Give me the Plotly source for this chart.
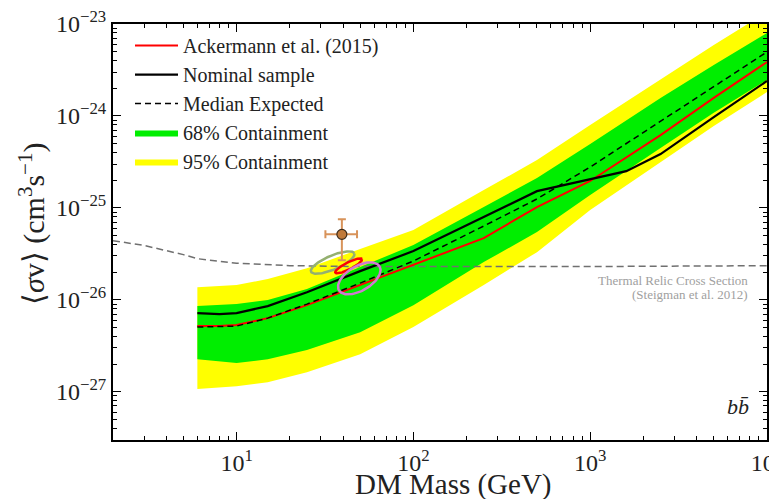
import numpy as np
import plotly.graph_objects as go

# ---------------- data ----------------
band_mass = [6, 10, 15, 25, 50, 100, 250, 500, 1000, 2500, 5000, 10000]
median_expected = [5.05e-27, 5.18e-27, 6.32e-27, 8.98e-27, 1.52e-26, 2.64e-26,
                   6.34e-26, 1.25e-25, 2.78e-25, 8.80e-25, 2.11e-24, 4.96e-24]
band68_upper = [8.54e-27, 8.98e-27, 9.93e-27, 1.31e-26, 2.27e-26, 3.94e-26,
                1.02e-25, 2.11e-25, 4.94e-25, 1.57e-24, 3.58e-24, 7.98e-24]
band68_lower = [2.26e-27, 2.05e-27, 2.26e-27, 2.84e-27, 4.45e-27, 8.75e-27,
                2.57e-26, 5.45e-26, 1.38e-25, 4.47e-25, 1.08e-24, 2.46e-24]
band95_upper = [1.37e-26, 1.45e-26, 1.68e-26, 2.21e-26, 3.56e-26, 5.73e-26,
                1.56e-25, 3.31e-25, 7.96e-25, 2.52e-24, 5.91e-24, 1.35e-23]
band95_lower = [1.07e-27, 1.15e-27, 1.27e-27, 1.63e-27, 2.56e-27, 5.05e-27,
                1.45e-26, 3.30e-26, 9.46e-26, 3.15e-25, 7.76e-25, 1.82e-24]

ack_mass = [6, 8, 10, 15, 25, 50, 100, 250, 500, 1000, 2500, 5000, 10000]
ackermann_2015 = [5.18e-27, 5.18e-27, 5.31e-27, 6.32e-27, 8.75e-27, 1.45e-26, 2.39e-26,
                  4.69e-26, 1.02e-25, 1.96e-25, 6.19e-25, 1.57e-24, 3.86e-24]

nom_mass = [6, 8, 10, 15, 25, 50, 100, 250, 500, 1600, 2500, 5000, 10000]
nominal_sample = [7.16e-27, 6.99e-27, 7.16e-27, 8.54e-27, 1.21e-26, 2.05e-26, 3.39e-26,
                  7.94e-26, 1.52e-25, 2.51e-25, 3.85e-25, 9.72e-25, 2.40e-24]

thermal_mass = [2, 3, 5, 6, 10, 20, 50, 100, 1000, 10000]
thermal_relic = [4.4e-26, 3.9e-26, 3.1e-26, 2.8e-26, 2.5e-26, 2.35e-26, 2.3e-26,
                 2.3e-26, 2.3e-26, 2.35e-26]

# data point with error bars
point_mass = [39.4]
point_sv = [5.15e-26]
point_mass_err_minus = [7.6]
point_mass_err_plus = [8.6]
point_sv_err_minus = [2.45e-26]
point_sv_err_plus = [2.35e-26]

# ellipses: centre (log10 mass, log10 sigma v), two conjugate half-axes in decades
ellipse_names = ["olive", "red", "orchid"]
ellipse_center_logm = [1.5435, 1.6336, 1.694]
ellipse_center_logsv = [-25.595, -25.631, -25.767]
ellipse_a = [(0.1225, 0.100), (0.0752, 0.074), (0.1148, 0.1306)]
ellipse_b = [(0.0155, -0.070), (0.009, -0.0337), (0.0356, -0.1153)]
ellipse_colors = ["#94b070", "#ff0000", "#d07ad0"]

x_tickvals = [10, 100, 1000, 10000]
x_ticktext = ["10<sup>1</sup>", "10<sup>2</sup>", "10<sup>3</sup>", "10<sup>4</sup>"]
y_tickvals = [1e-27, 1e-26, 1e-25, 1e-24, 1e-23]
y_ticktext = ["10<sup>−27</sup>", "10<sup>−26</sup>", "10<sup>−25</sup>",
              "10<sup>−24</sup>", "10<sup>−23</sup>"]

FONT = "Liberation Serif"
TXT = "#222222"

fig = go.Figure()

# 95% band
fig.add_trace(go.Scatter(
    x=band_mass + band_mass[::-1], y=band95_upper + band95_lower[::-1],
    fill="toself", fillcolor="#ffff00", line=dict(width=0, color="#ffff00"),
    mode="lines", name="95% Containment", legendrank=5, legendgroup="e"))
# 68% band
fig.add_trace(go.Scatter(
    x=band_mass + band_mass[::-1], y=band68_upper + band68_lower[::-1],
    fill="toself", fillcolor="#00ee00", line=dict(width=0, color="#00ee00"),
    mode="lines", name="68% Containment", legendrank=4, legendgroup="d"))

# thermal relic
fig.add_trace(go.Scatter(
    x=thermal_mass, y=thermal_relic, mode="lines",
    line=dict(color="#707070", width=1.5, dash="7px,4px"), showlegend=False))

# Ackermann
fig.add_trace(go.Scatter(
    x=ack_mass, y=ackermann_2015, mode="lines",
    line=dict(color="#ff0000", width=2), name="Ackermann et al. (2015)",
    legendrank=1, legendgroup="a"))
# median expected
fig.add_trace(go.Scatter(
    x=band_mass, y=median_expected, mode="lines",
    line=dict(color="black", width=1.5, dash="6px,4px"), name="Median Expected",
    legendrank=3, legendgroup="c"))
# nominal sample
fig.add_trace(go.Scatter(
    x=nom_mass, y=nominal_sample, mode="lines",
    line=dict(color="black", width=2.2), name="Nominal sample",
    legendrank=2, legendgroup="b"))

# ellipses
t = np.linspace(0, 2 * np.pi, 120)
for i in range(len(ellipse_names)):
    ax_, ay_ = ellipse_a[i]
    bx_, by_ = ellipse_b[i]
    lx = ellipse_center_logm[i] + ax_ * np.cos(t) + bx_ * np.sin(t)
    ly = ellipse_center_logsv[i] + ay_ * np.cos(t) + by_ * np.sin(t)
    fig.add_trace(go.Scatter(x=10 ** lx, y=10 ** ly, mode="lines",
                             line=dict(color=ellipse_colors[i], width=2.5),
                             showlegend=False))

fig.add_trace(go.Scatter(
    x=point_mass, y=point_sv, mode="markers",
    marker=dict(size=10, color="#c07a3a", line=dict(color="#3a2a1a", width=1.2)),
    error_x=dict(type="data", symmetric=False, array=point_mass_err_plus,
                 arrayminus=point_mass_err_minus, color="#d8935a", thickness=2, width=4),
    error_y=dict(type="data", symmetric=False, array=point_sv_err_plus,
                 arrayminus=point_sv_err_minus, color="#d8935a", thickness=2, width=4),
    showlegend=False))

axis_common = dict(
    type="log", showline=True, linecolor="black", linewidth=2, mirror="ticks",
    ticks="inside", ticklen=8, tickwidth=1.3, tickcolor="black", showgrid=False,
    zeroline=False, automargin=False, ticklabeloverflow="allow",
    tickfont=dict(family=FONT, size=24, color=TXT),
    minor=dict(ticks="inside", ticklen=4, tickwidth=1, tickcolor="black",
               dtick="D1", showgrid=False),
)

fig.update_xaxes(**axis_common, range=[np.log10(2), 4],
                 tickvals=x_tickvals, ticktext=x_ticktext)
fig.update_yaxes(**axis_common, range=[-27.525, -23],
                 tickvals=y_tickvals, ticktext=y_ticktext)

# axis titles as annotations (exact placement)
fig.add_annotation(x=0.5214, xref="paper", y=-0.108, yref="paper",
                   text="DM Mass (GeV)", showarrow=False, xanchor="center",
                   yanchor="middle", font=dict(family=FONT, size=29, color=TXT))
fig.add_annotation(x=-0.124, xref="paper", y=0.519, yref="paper",
                   text="⟨<i>σ</i>v⟩ (cm<sup>3</sup>s<sup>−1</sup>)", textangle=-90,
                   showarrow=False, xanchor="center", yanchor="middle",
                   font=dict(family=FONT, size=30, color=TXT))

fig.add_annotation(x=0.974, xref="paper", y=np.log10(1.61e-26), yref="y",
                   text="Thermal Relic Cross Section",
                   showarrow=False, xanchor="right", yanchor="middle",
                   font=dict(family=FONT, size=13, color="#a0a0a0"))
fig.add_annotation(x=0.974, xref="paper", y=np.log10(1.13e-26), yref="y",
                   text="(Steigman et al. 2012)",
                   showarrow=False, xanchor="right", yanchor="middle",
                   font=dict(family=FONT, size=13, color="#a0a0a0"))
fig.add_annotation(x=0.975, xref="paper", y=0.08, yref="paper",
                   text="<i>b</i><i>b̄</i>", showarrow=False, xanchor="right",
                   yanchor="middle", font=dict(family=FONT, size=22, color=TXT))

# page body has an 8px margin: shrink the figure so the plot area lands where intended
fig.update_layout(
    width=769, height=491,
    margin=dict(l=105, r=10, t=16, b=59),
    paper_bgcolor="white", plot_bgcolor="white",
    showlegend=True,
    legend=dict(x=0.026, y=0.995, xanchor="left", yanchor="top",
                bgcolor="rgba(0,0,0,0)", font=dict(family=FONT, size=20, color=TXT),
                traceorder="grouped", tracegroupgap=0, itemwidth=43),
)

fig.write_html("out.html")
